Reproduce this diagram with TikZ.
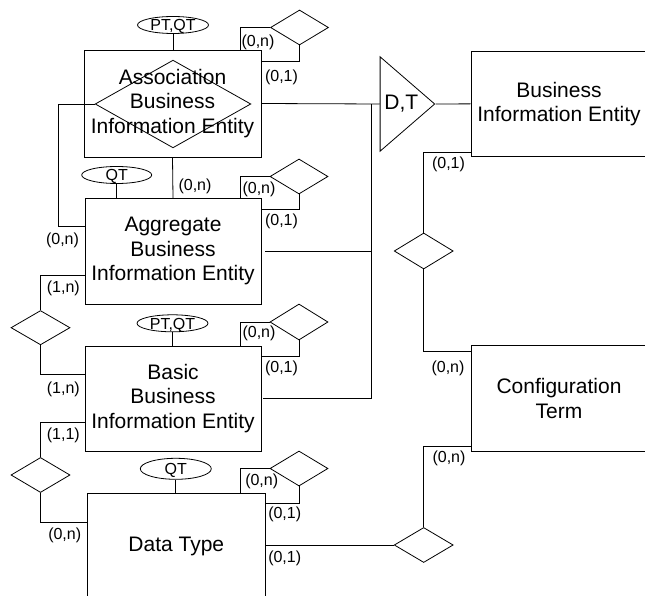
\documentclass[tikz,border=0pt]{standalone}
\usepackage{fontspec}
\setmainfont{Liberation Sans}
\usetikzlibrary{positioning,shapes,calc}

\begin{document}
\begin{tikzpicture}[x=1pt,y=-1pt,line width=0.8pt]
\tikzstyle{every node}=[font=\fontsize{16}{19}\selectfont,inner sep=0pt]
\tikzstyle{entity}=[rectangle,draw,align=center,font=\fontsize{21}{24.5}\selectfont]
\tikzstyle{rel}=[diamond,draw,minimum width=58pt,minimum height=35pt]
\tikzstyle{attr}=[ellipse,draw,minimum width=71pt,minimum height=17pt,text height=11.5pt,text depth=0pt]
\useasboundingbox (0,0) rectangle (645,596);
% the entities
\node[entity,minimum width=177pt,minimum height=107pt] (abie) at (172.5,103.5) {Association\\Business\\Information Entity};
\node[diamond,draw,minimum width=155.7pt,minimum height=87.7pt] (adiam) at (173,104) {};
\node[entity,minimum width=176pt,minimum height=106pt] (aggbie) at (173,251.3) {Aggregate\\Business\\Information Entity};
\node[entity,minimum width=176pt,minimum height=105pt] (bbie) at (173,398.5) {Basic\\Business\\Information Entity};
\node[entity,minimum width=177.3pt,minimum height=106pt] (dtype) at (176.3,546) {Data Type};
\node[entity,minimum width=176pt,minimum height=105.7pt] (bie) at (559,103.85) {Business\\Information Entity};
\node[entity,minimum width=176pt,minimum height=106pt] (cterm) at (559,398.7) {Configuration\\Term};
\node[isosceles triangle,isosceles triangle stretches,draw,minimum width=94.3pt,minimum height=53.4pt,anchor=apex,font=\fontsize{21}{24.5}\selectfont] (gen) at (435.7,104) {D,T};
% qualifiers
\node[attr] (qA) at (173,25) {PT,QT};
\node[attr,minimum width=70pt] (qG) at (116.7,175) {QT};
\node[attr] (qB) at (172.5,323.3) {PT,QT};
\node[attr,minimum height=21pt] (qD) at (175.8,468.8) {QT};
% relationships
\node[rel] (rA) at (299.5,27.5) {};
\node[rel] (rG) at (299,176.5) {};
\node[rel,minimum height=36pt] (rB) at (299,322) {};
\node[rel] (rD) at (299,468.5) {};
\node[rel,minimum width=59pt,minimum height=34.3pt] (lAB) at (40.5,327.7) {};
\node[rel,minimum width=59pt] (lBD) at (40.5,475) {};
\node[rel,minimum width=59pt,minimum height=36pt] (rBC) at (423.7,251) {};
\node[rel,minimum width=59pt] (rCD) at (423.7,545) {};
\coordinate (gtop) at (371.7,104);
% connectors
\draw (qA.south) -- (qA.south |- abie.north);
\draw (qG.south) -- (qG.south |- aggbie.north);
\draw (qB.south) -- (qB.south |- bbie.north);
\draw (qD.south) -- (qD.south |- dtype.north);
\draw ([xshift=-21pt]abie.north east) |- (rA.west);
\draw (rA.south) |- ([yshift=-11.5pt]abie.north east);
\draw ([xshift=-21pt]aggbie.north east) |- (rG.west);
\draw (rG.south) |- ([yshift=-11.5pt]aggbie.north east);
\draw ([xshift=-21pt]bbie.north east) |- (rB.west);
\draw (rB.south) |- ([yshift=-11pt]bbie.north east);
\draw ([xshift=-25pt]dtype.north east) |- (rD.west);
\draw (rD.south) |- ([yshift=-11pt]dtype.north east);
\draw (adiam.west) -- ++(-36.7,0) |- ([yshift=24.6pt]aggbie.west);
\draw (abie.south) -- (aggbie.north);
\draw (abie.east) -- (gen.lower side);
\draw ([xshift=4pt]aggbie.east) -| (gtop);
\draw ([xshift=2pt]bbie.east) -| (gtop);
\draw (gen.apex) -- (bie.west);
\draw ([yshift=5pt]bie.south west) -| (rBC.north);
\draw (rBC.south) |- ([yshift=-6pt]cterm.north west);
\draw ([yshift=6pt]cterm.south west) -| (rCD.north);
\draw (rCD.west) -- (rCD.west -| dtype.east);
\draw ([yshift=-23.7pt]aggbie.west) -| (lAB.north);
\draw (lAB.south) |- ([yshift=24.2pt]bbie.west);
\draw ([yshift=-23.8pt]bbie.west) -| (lBD.north);
\draw (lBD.south) |- ([yshift=23.7pt]dtype.west);
% cardinalities
\node (cA1) at (258,42) {(0,n)};
\node (cA2) at (281.5,77) {(0,1)};
\node (cG1) at (259,189.3) {(0,n)};
\node (cG2) at (281.5,221.7) {(0,1)};
\node (cB1) at (259,333.3) {(0,n)};
\node (cB2) at (281.5,368.3) {(0,1)};
\node (cD1) at (261.7,481.7) {(0,n)};
\node (cD2) at (284.7,514) {(0,1)};
\node (cAG) at (195,186) {(0,n)};
\node (cGA) at (62.5,240) {(0,n)};
\node (cGB1) at (63.3,288.3) {(1,n)};
\node (cGB2) at (63.3,389.3) {(1,n)};
\node (cBD1) at (63.3,435.7) {(1,1)};
\node (cBD2) at (64.7,535) {(0,n)};
\node (cBC1) at (448.5,164) {(0,1)};
\node (cBC2) at (448,368) {(0,n)};
\node (cCD1) at (449,458.3) {(0,n)};
\node (cCD2) at (284.7,558) {(0,1)};
\end{tikzpicture}
\end{document}
